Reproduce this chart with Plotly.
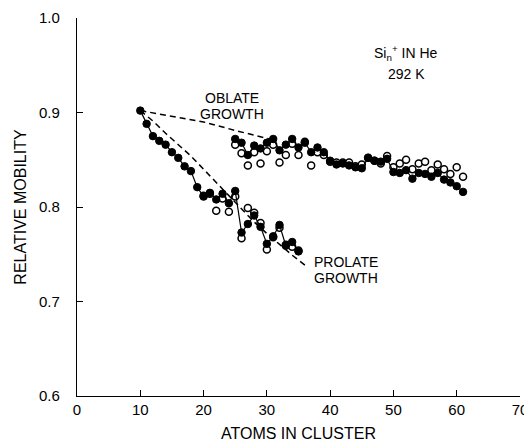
import plotly.graph_objects as go

# ---- data ----
prolate_n = list(range(10, 36))
prolate_filled = [0.902, 0.888, 0.875, 0.870, 0.866, 0.858, 0.852, 0.843, 0.838, 0.821,
                  0.811, 0.815, 0.808, 0.814, 0.804, 0.817, 0.773, 0.782, 0.791, 0.779,
                  0.761, 0.769, 0.781, 0.759, 0.763, 0.753]
prolate_open_n = list(range(20, 36))
prolate_open = [0.812, 0.814, 0.796, 0.809, 0.795, 0.811, 0.767, 0.799, 0.794, 0.783,
                0.755, 0.768, 0.778, 0.760, 0.758, 0.754]

oblate_n = list(range(25, 62))
oblate_filled = [0.872, 0.868, 0.855, 0.865, 0.862, 0.868, 0.872, 0.860, 0.866, 0.872,
                 0.863, 0.868, 0.858, 0.863, 0.858, 0.849, 0.845, 0.846, 0.844, 0.842,
                 0.841, 0.852, 0.849, 0.848, 0.851, 0.837, 0.836, 0.839, 0.830, 0.836,
                 0.835, 0.832, 0.836, 0.829, 0.826, 0.822, 0.816]
oblate_open = [0.866, 0.857, 0.844, 0.858, 0.846, 0.859, 0.866, 0.847, 0.855, 0.867,
               0.855, 0.869, 0.844, 0.858, 0.855, 0.848, 0.847, 0.847, 0.847, 0.843,
               0.845, 0.852, 0.849, 0.846, 0.854, 0.842, 0.846, 0.850, 0.840, 0.846,
               0.848, 0.839, 0.845, 0.840, 0.835, 0.842, 0.832]

oblate_model_n = [10, 15, 20, 25, 31]
oblate_model = [0.902, 0.896, 0.890, 0.881, 0.871]
prolate_model_n = [10, 12, 14, 16, 18, 20, 22, 24, 26, 28, 30, 32, 34, 36.5]
prolate_model = [0.902, 0.891, 0.878, 0.866, 0.854, 0.840, 0.826, 0.811, 0.797, 0.784,
                 0.772, 0.760, 0.749, 0.736]

x_ticks = [0, 10, 20, 30, 40, 50, 60, 70]
y_ticks = [0.6, 0.7, 0.8, 0.9, 1.0]

FONT = "Liberation Sans, Arial, sans-serif"

fig = go.Figure()

dash_line = dict(color="black", width=1.5, dash="6px,4px")
fig.add_trace(go.Scatter(x=oblate_model_n, y=oblate_model, mode="lines",
                         line=dash_line, hoverinfo="skip"))
fig.add_trace(go.Scatter(x=prolate_model_n, y=prolate_model, mode="lines",
                         line=dash_line, hoverinfo="skip"))

open_marker = dict(symbol="circle", size=7, color="white",
                   line=dict(color="black", width=1.5))
fig.add_trace(go.Scatter(x=prolate_open_n, y=prolate_open, mode="markers",
                         marker=open_marker))
fig.add_trace(go.Scatter(x=oblate_n, y=oblate_open, mode="markers",
                         marker=open_marker))

filled_marker = dict(symbol="circle", size=7.5, color="black",
                     line=dict(color="black", width=1))
fig.add_trace(go.Scatter(x=prolate_n, y=prolate_filled, mode="lines+markers",
                         line=dict(color="black", width=1.2), marker=filled_marker))
fig.add_trace(go.Scatter(x=oblate_n, y=oblate_filled, mode="lines+markers",
                         line=dict(color="black", width=1.2), marker=filled_marker))

ann_font = dict(family=FONT, size=14, color="black")
fig.add_annotation(x=52, y=0.963, text="Si<sub>n</sub><sup>+</sup> IN He",
                   showarrow=False, font=ann_font)
fig.add_annotation(x=52, y=0.941, text="292 K", showarrow=False, font=ann_font)
fig.add_annotation(x=24.5, y=0.915, text="OBLATE", showarrow=False, font=ann_font)
fig.add_annotation(x=24.5, y=0.898, text="GROWTH", showarrow=False, font=ann_font)
fig.add_annotation(x=42.5, y=0.742, text="PROLATE", showarrow=False, font=ann_font)
fig.add_annotation(x=42.5, y=0.725, text="GROWTH", showarrow=False, font=ann_font)

axis_common = dict(showline=True, linecolor="black", linewidth=1.2, mirror=False,
                   ticks="inside", ticklen=6, tickcolor="black", tickwidth=1,
                   showgrid=False, zeroline=False, automargin=False,
                   ticklabeloverflow="allow",
                   tickfont=dict(family=FONT, size=15, color="black"))

fig.update_layout(
    width=524, height=434,
    margin=dict(l=69, r=12, t=10, b=46),
    paper_bgcolor="white", plot_bgcolor="white",
    showlegend=False,
    font=dict(family=FONT, color="black"),
    xaxis=dict(range=[0, 70], tickmode="array", tickvals=x_ticks,
               title=dict(text="ATOMS IN CLUSTER", font=dict(family=FONT, size=16), standoff=10),
               **axis_common),
    yaxis=dict(range=[0.6, 1.0], tickmode="array", tickvals=y_ticks,
               tickformat=".1f", ticklabelstandoff=13,
               title=dict(text="RELATIVE MOBILITY", font=dict(family=FONT, size=16), standoff=8),
               **axis_common),
)

fig.write_html("out.html")
